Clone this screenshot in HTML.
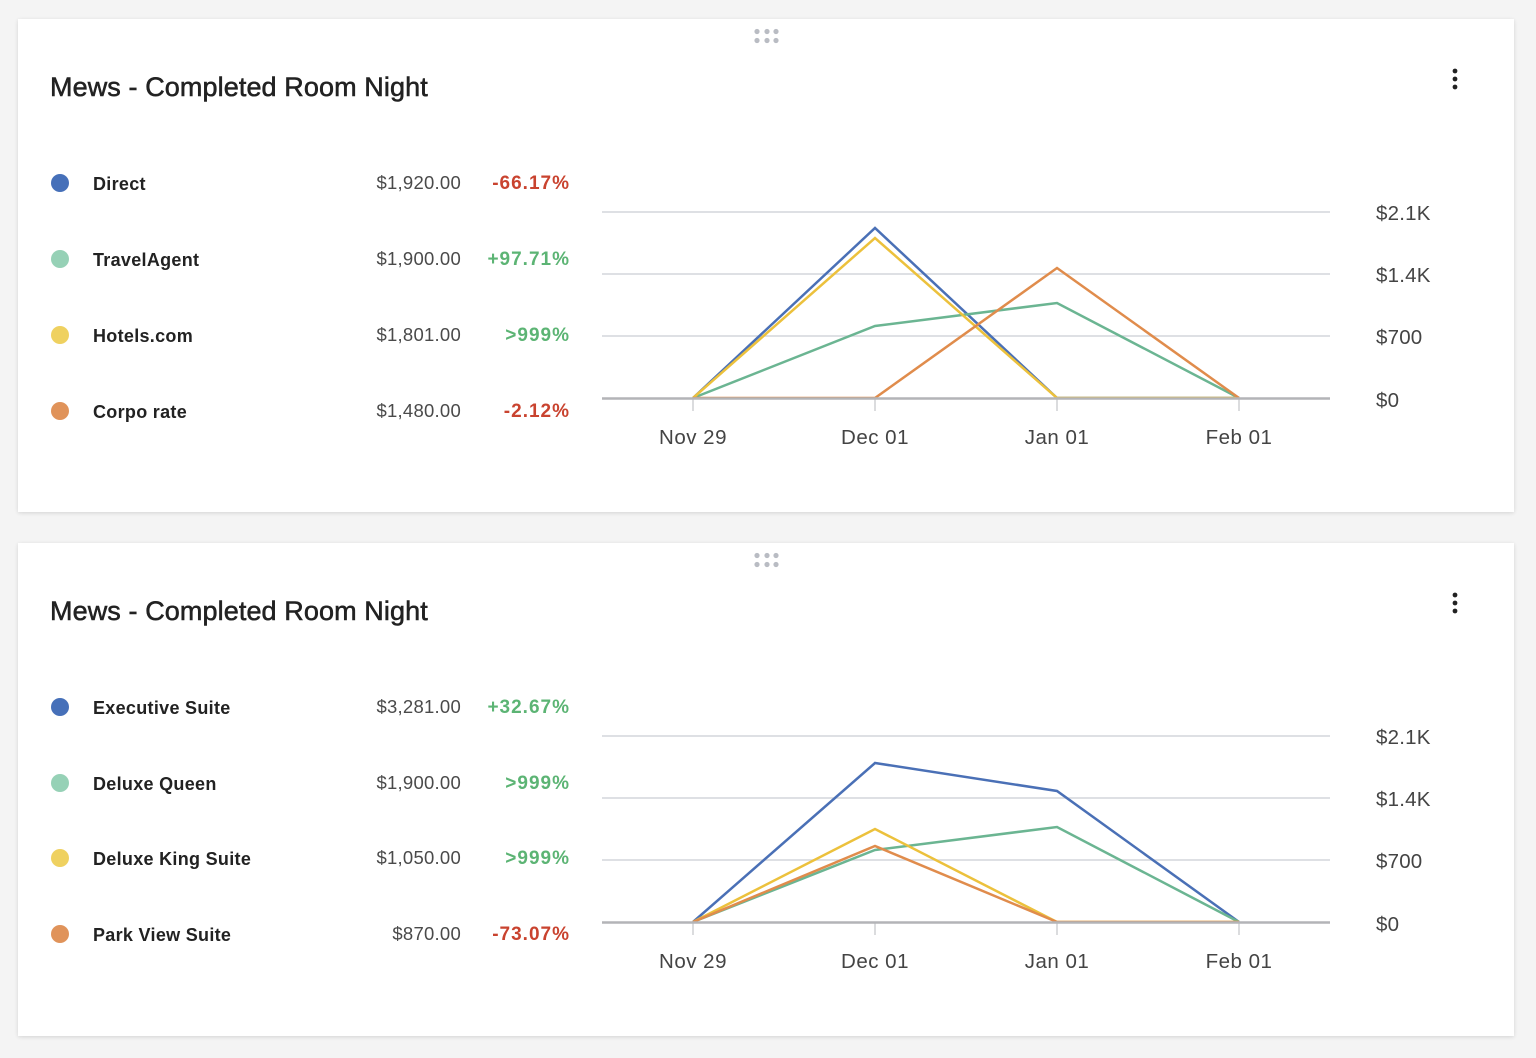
<!DOCTYPE html>
<html><head><meta charset="utf-8"><style>
html,body{margin:0;padding:0;}
body{width:1536px;height:1058px;background:#f4f4f4;position:relative;overflow:hidden;font-family:"Liberation Sans",sans-serif;}
.card{position:absolute;left:18px;width:1496px;height:493px;background:#fff;box-shadow:0 1px 4px rgba(0,0,0,0.13);}
svg{position:absolute;left:0;top:0;}
</style></head><body>
<div class="card" style="top:19px"></div>
<div class="card" style="top:543px"></div>
<svg width="1536" height="1058" viewBox="0 0 1536 1058" xmlns="http://www.w3.org/2000/svg" font-family="Liberation Sans, sans-serif">
<!-- CARD 1 -->
<g>
  <g fill="#b9bcc3">
    <circle cx="757" cy="31.5" r="2.6"/><circle cx="767" cy="31.5" r="2.6"/><circle cx="776" cy="31.5" r="2.6"/>
    <circle cx="757" cy="40.5" r="2.6"/><circle cx="767" cy="40.5" r="2.6"/><circle cx="776" cy="40.5" r="2.6"/>
  </g>
  <g fill="#222"><circle cx="1455" cy="71" r="2.4"/><circle cx="1455" cy="79" r="2.4"/><circle cx="1455" cy="87" r="2.4"/></g>
  <text x="50" y="96" font-size="27" fill="#222" stroke="#222" stroke-width="0.55" letter-spacing="0.1">Mews - Completed Room Night</text>

  <circle cx="60" cy="183" r="9" fill="#4670b9"/>
  <circle cx="60" cy="259" r="9" fill="#96d1b6"/>
  <circle cx="60" cy="335" r="9" fill="#efd160"/>
  <circle cx="60" cy="411" r="9" fill="#e0935a"/>
  <g font-size="18" font-weight="bold" fill="#222" letter-spacing="0.3">
    <text x="93" y="190">Direct</text>
    <text x="93" y="266">TravelAgent</text>
    <text x="93" y="342">Hotels.com</text>
    <text x="93" y="418">Corpo rate</text>
  </g>
  <g font-size="18.5" fill="#4a4a4a" text-anchor="end" letter-spacing="0.25">
    <text x="461" y="189">$1,920.00</text>
    <text x="461" y="265">$1,900.00</text>
    <text x="461" y="341">$1,801.00</text>
    <text x="461" y="417">$1,480.00</text>
  </g>
  <g font-size="19" font-weight="bold" text-anchor="end" letter-spacing="1">
    <text x="570" y="189" fill="#c9432f">-66.17%</text>
    <text x="570" y="265" fill="#5cb474">+97.71%</text>
    <text x="570" y="341" fill="#5cb474">&gt;999%</text>
    <text x="570" y="417" fill="#c9432f">-2.12%</text>
  </g>

  <g stroke="#d4d6db" stroke-width="1.5">
    <line x1="602" y1="212" x2="1330" y2="212"/>
    <line x1="602" y1="274" x2="1330" y2="274"/>
    <line x1="602" y1="336" x2="1330" y2="336"/>
  </g>
  <g stroke="#cfd0d3" stroke-width="1.5">
    <line x1="693" y1="398" x2="693" y2="411"/>
    <line x1="875" y1="398" x2="875" y2="411"/>
    <line x1="1057" y1="398" x2="1057" y2="411"/>
    <line x1="1239" y1="398" x2="1239" y2="411"/>
  </g>
  <g fill="none" stroke-width="2.5" stroke-linejoin="miter">
    <polyline points="693,398 875,228 1057,398 1239,398" stroke="#4a70b6"/>
    <polyline points="693,398 875,326 1057,303 1239,398" stroke="#6bb592"/>
    <polyline points="693,398 875,238 1057,398 1239,398" stroke="#ecc13c"/>
    <polyline points="693,398 875,398 1057,268 1239,398" stroke="#e08c4c"/>
  </g>
  <line x1="602" y1="398.5" x2="1330" y2="398.5" stroke="#b3b4b7" stroke-width="2.5"/>
  <g font-size="20.5" fill="#444" text-anchor="middle" letter-spacing="0.5">
    <text x="693" y="444">Nov 29</text>
    <text x="875" y="444">Dec 01</text>
    <text x="1057" y="444">Jan 01</text>
    <text x="1239" y="444">Feb 01</text>
  </g>
  <g font-size="20.5" fill="#444" letter-spacing="0.2">
    <text x="1376" y="220">$2.1K</text>
    <text x="1376" y="282">$1.4K</text>
    <text x="1376" y="344">$700</text>
    <text x="1376" y="407">$0</text>
  </g>
</g>

<!-- CARD 2 -->
<g transform="translate(0,524)">
  <g fill="#b9bcc3">
    <circle cx="757" cy="31.5" r="2.6"/><circle cx="767" cy="31.5" r="2.6"/><circle cx="776" cy="31.5" r="2.6"/>
    <circle cx="757" cy="40.5" r="2.6"/><circle cx="767" cy="40.5" r="2.6"/><circle cx="776" cy="40.5" r="2.6"/>
  </g>
  <g fill="#222"><circle cx="1455" cy="71" r="2.4"/><circle cx="1455" cy="79" r="2.4"/><circle cx="1455" cy="87" r="2.4"/></g>
  <text x="50" y="96" font-size="27" fill="#222" stroke="#222" stroke-width="0.55" letter-spacing="0.1">Mews - Completed Room Night</text>

  <circle cx="60" cy="183" r="9" fill="#4670b9"/>
  <circle cx="60" cy="259" r="9" fill="#96d1b6"/>
  <circle cx="60" cy="334" r="9" fill="#efd160"/>
  <circle cx="60" cy="410" r="9" fill="#e0935a"/>
  <g font-size="18" font-weight="bold" fill="#222" letter-spacing="0.3">
    <text x="93" y="190">Executive Suite</text>
    <text x="93" y="266">Deluxe Queen</text>
    <text x="93" y="341">Deluxe King Suite</text>
    <text x="93" y="417">Park View Suite</text>
  </g>
  <g font-size="18.5" fill="#4a4a4a" text-anchor="end" letter-spacing="0.25">
    <text x="461" y="189">$3,281.00</text>
    <text x="461" y="265">$1,900.00</text>
    <text x="461" y="340">$1,050.00</text>
    <text x="461" y="416">$870.00</text>
  </g>
  <g font-size="19" font-weight="bold" text-anchor="end" letter-spacing="1">
    <text x="570" y="189" fill="#5cb474">+32.67%</text>
    <text x="570" y="265" fill="#5cb474">&gt;999%</text>
    <text x="570" y="340" fill="#5cb474">&gt;999%</text>
    <text x="570" y="416" fill="#c9432f">-73.07%</text>
  </g>

  <g stroke="#d4d6db" stroke-width="1.5">
    <line x1="602" y1="212" x2="1330" y2="212"/>
    <line x1="602" y1="274" x2="1330" y2="274"/>
    <line x1="602" y1="336" x2="1330" y2="336"/>
  </g>
  <g stroke="#cfd0d3" stroke-width="1.5">
    <line x1="693" y1="398" x2="693" y2="411"/>
    <line x1="875" y1="398" x2="875" y2="411"/>
    <line x1="1057" y1="398" x2="1057" y2="411"/>
    <line x1="1239" y1="398" x2="1239" y2="411"/>
  </g>
  <g fill="none" stroke-width="2.5" stroke-linejoin="miter">
    <polyline points="693,398 875,239 1057,267 1239,398" stroke="#4a70b6"/>
    <polyline points="693,398 875,326 1057,303 1239,398" stroke="#6bb592"/>
    <polyline points="693,398 875,305 1057,398 1239,398" stroke="#ecc13c"/>
    <polyline points="693,398 875,322 1057,398 1239,398" stroke="#e08c4c"/>
  </g>
  <line x1="602" y1="398.5" x2="1330" y2="398.5" stroke="#b3b4b7" stroke-width="2.5"/>
  <g font-size="20.5" fill="#444" text-anchor="middle" letter-spacing="0.5">
    <text x="693" y="444">Nov 29</text>
    <text x="875" y="444">Dec 01</text>
    <text x="1057" y="444">Jan 01</text>
    <text x="1239" y="444">Feb 01</text>
  </g>
  <g font-size="20.5" fill="#444" letter-spacing="0.2">
    <text x="1376" y="220">$2.1K</text>
    <text x="1376" y="282">$1.4K</text>
    <text x="1376" y="344">$700</text>
    <text x="1376" y="407">$0</text>
  </g>
</g>
</svg>
</body></html>
